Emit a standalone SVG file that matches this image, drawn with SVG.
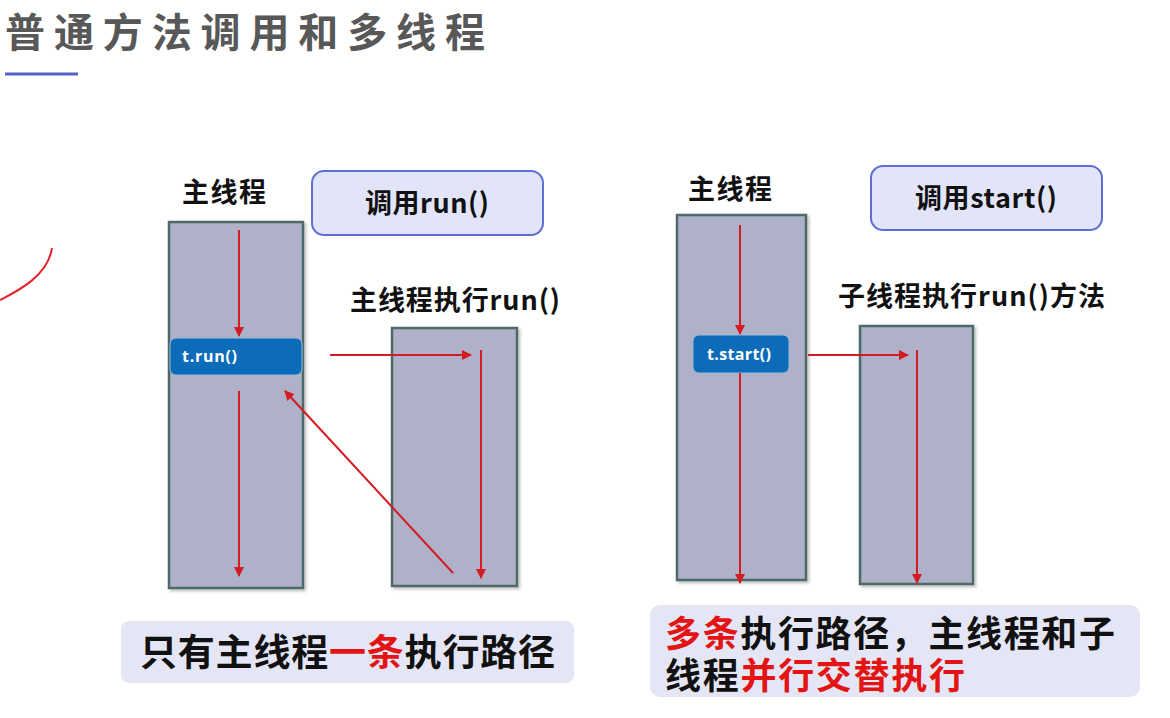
<svg xmlns="http://www.w3.org/2000/svg" width="1170" height="718" viewBox="0 0 1170 718">
<style>
.t{font-family:"Noto Sans CJK SC","Noto Sans",sans-serif;font-weight:700;fill:#111}
.title{font-family:"Noto Sans CJK SC","Noto Sans",sans-serif;font-weight:700;fill:#585858;font-size:40px}
.lane{fill:#aeb1c7;stroke:#4e6a68;stroke-width:2.5}
.call{fill:#e2e4f9;stroke:#5d6fd2;stroke-width:2}
.btn{fill:#0d6cb9;stroke:#9ab8d8;stroke-width:1}
.btnt{font-family:"Open Sans","Noto Sans",sans-serif;font-weight:700;fill:#fff;font-size:16px}
.note{fill:#e5e6f5}
.red{fill:#e31414}
.arr{stroke:#d41b22;stroke-width:2;fill:none;marker-end:url(#ah)}
</style>
<defs>
<marker id="ah" viewBox="0 0 10 10" refX="9" refY="5" markerWidth="5" markerHeight="5" orient="auto">
<path d="M0,0 L10,5 L0,10 z" fill="#d41b22"/>
</marker>
<filter id="sh" x="-10%" y="-10%" width="130%" height="130%">
<feDropShadow dx="2" dy="2" stdDeviation="1.5" flood-color="#000" flood-opacity="0.25"/>
</filter>
</defs>
<rect width="1170" height="718" fill="#fff"/>
<g id="title">
<text class="title" x="5" y="47" textLength="480">普通方法调用和多线程</text>
<line x1="5" y1="74" x2="78" y2="74" stroke="#5263c4" stroke-width="3"/>
</g>
<path d="M0,300 C20,290 48,275 52,248" stroke="#e02530" stroke-width="2" fill="none"/>
<g id="left-main">
<text class="t" x="182" y="202" font-size="27" textLength="84">主线程</text>
<rect class="lane" x="169" y="222" width="134" height="366" filter="url(#sh)"/>
</g>
<g id="left-call">
<rect class="call" x="312" y="171" width="231" height="64" rx="12"/>
<text class="t" x="365" y="213" font-size="27" textLength="124">调用run()</text>
</g>
<g id="left-trun">
<rect class="btn" x="170" y="338" width="132" height="37" rx="6"/>
<text class="btnt" x="182" y="362" textLength="55">t.run()</text>
</g>
<g id="left-sub">
<text class="t" x="350" y="310" font-size="27" textLength="210">主线程执行run()</text>
<rect class="lane" x="392" y="328" width="125" height="258" filter="url(#sh)"/>
</g>
<g id="right-main">
<text class="t" x="688" y="199" font-size="27" textLength="84">主线程</text>
<rect class="lane" x="677" y="215" width="129" height="365" filter="url(#sh)"/>
</g>
<g id="right-call">
<rect class="call" x="871" y="166" width="231" height="64" rx="12"/>
<text class="t" x="915" y="208" font-size="27" textLength="142">调用start()</text>
</g>
<g id="right-tstart">
<rect class="btn" x="693" y="335" width="96" height="38" rx="6"/>
<text class="btnt" x="707" y="360" textLength="64">t.start()</text>
</g>
<g id="right-sub">
<text class="t" x="838" y="306" font-size="27" textLength="267">子线程执行run()方法</text>
<rect class="lane" x="860" y="326" width="113" height="258" filter="url(#sh)"/>
</g>
<g id="connectors">
<line class="arr" x1="239" y1="230" x2="239" y2="336"/>
<line class="arr" x1="239" y1="391" x2="239" y2="576"/>
<line class="arr" x1="330" y1="355" x2="471" y2="355"/>
<line class="arr" x1="481" y1="350" x2="481" y2="578"/>
<line class="arr" x1="453" y1="573" x2="285" y2="391"/>
<line class="arr" x1="740" y1="225" x2="740" y2="334"/>
<line class="arr" x1="740" y1="373" x2="740" y2="583"/>
<line class="arr" x1="808" y1="355" x2="908" y2="355"/>
<line class="arr" x1="917" y1="350" x2="917" y2="583"/>
</g>
<g id="note-left">
<rect class="note" x="121" y="621" width="453" height="62" rx="8"/>
<text class="t" x="140" y="666" font-size="37" textLength="415">只有主线程<tspan class="red">一条</tspan>执行路径</text>
</g>
<g id="note-right">
<rect class="note" x="650" y="605" width="490" height="92" rx="10"/>
<text class="t" x="665" y="647" font-size="36" textLength="450"><tspan class="red">多条</tspan>执行路径，主线程和子</text>
<text class="t" x="665" y="689" font-size="36" textLength="300">线程<tspan class="red">并行交替执行</tspan></text>
</g>
</svg>
